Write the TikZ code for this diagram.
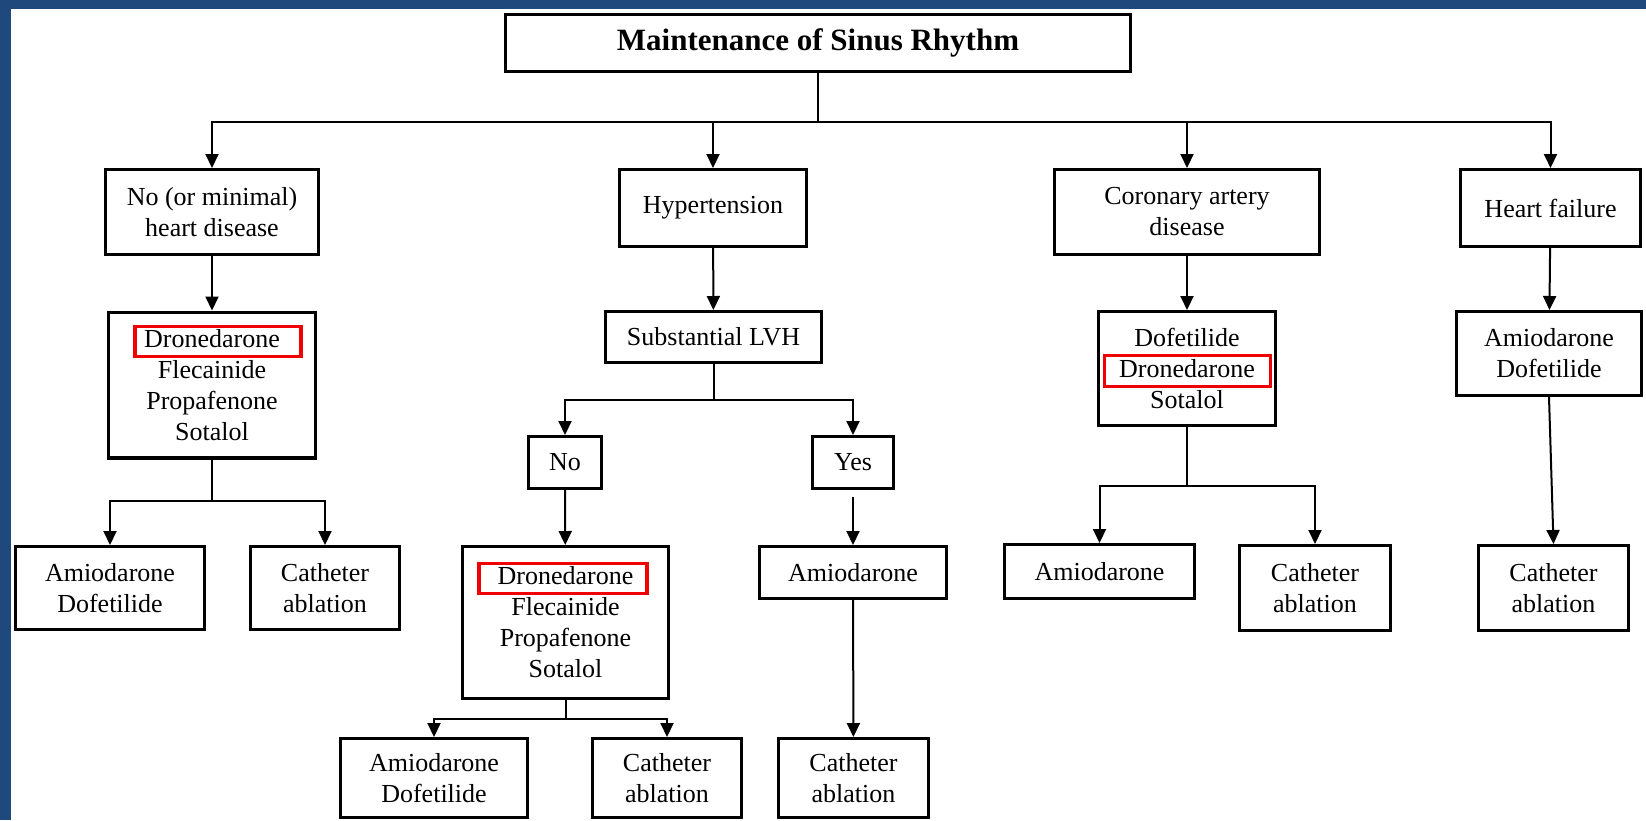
\documentclass[tikz,border=0pt]{standalone}
\usepackage{fontspec}
\usetikzlibrary{arrows.meta}
\newfontfamily\chartfont{Liberation Serif}
\definecolor{frameblue}{RGB}{31,73,125}
\definecolor{hlred}{RGB}{240,0,0}

\begin{document}
\begin{tikzpicture}[x=1pt, y=-1pt,
  box/.style={draw=black, line width=3.2pt, fill=white, inner sep=0pt, align=center,
    font={\chartfont\fontsize{26}{31}\selectfont}},
  sz/.style n args={2}{minimum width={#1pt-3.2pt}, minimum height={#2pt-3.2pt}},
  titlebox/.style={box, font={\chartfont\bfseries\fontsize{31}{37}\selectfont}},
  conn/.style={line width=2pt, draw=black},
  arr/.style={conn, -{Triangle[width=13pt,length=14pt]}},
  hl/.style={draw=hlred, line width=3.6pt, inner sep=0pt},
]
% canvas and frame
\useasboundingbox (0,0) rectangle (1646,820);
\fill[frameblue] (0,0) rectangle (1646,820);
\fill[white] (11,9) rectangle (1646,820);

% top
\node[titlebox, sz={628}{60}] (main) at (818,43) {Maintenance of Sinus Rhythm};

% first level
\node[box, sz={216}{88}] (nohd) at (212,212) {No (or minimal)\\heart disease};
\node[box, sz={190}{80}] (hyp)  at (713,208) {Hypertension};
\node[box, sz={268}{88}] (cad)  at (1187,212) {Coronary artery\\disease};
\node[box, sz={183}{80}] (hf)   at (1550.5,208) {Heart failure};

% second level
\node[box, sz={210}{149}] (drA) at (212,385) {Dronedarone\\Flecainide\\Propafenone\\Sotalol};
\node[box, sz={219}{54}]  (lvh) at (713.5,337) {Substantial LVH};
\node[box, sz={180}{117}] (drC) at (1187,368.5) {Dofetilide\\Dronedarone\\Sotalol};
\node[box, sz={188}{87}]  (drH) at (1549,353.5) {Amiodarone\\Dofetilide};

% LVH answers
\node[box, sz={76}{55}] (no)  at (565,462.5) {No};
\node[box, sz={84}{55}] (yes) at (853,462.5) {Yes};

% third level
\node[box, sz={192}{86}]  (amA) at (110,588) {Amiodarone\\Dofetilide};
\node[box, sz={152}{86}]  (caA) at (325,588) {Catheter\\ablation};
\node[box, sz={209}{155}] (drN) at (565.5,622.5) {Dronedarone\\Flecainide\\Propafenone\\Sotalol};
\node[box, sz={190}{55}]  (amY) at (853,572.5) {Amiodarone};
\node[box, sz={193}{57}]  (amC) at (1099.5,571.5) {Amiodarone};
\node[box, sz={154}{88}]  (caC) at (1315,588) {Catheter\\ablation};
\node[box, sz={153}{88}]  (caH) at (1553.5,588) {Catheter\\ablation};

% bottom level
\node[box, sz={190}{82}] (amN) at (434,778) {Amiodarone\\Dofetilide};
\node[box, sz={152}{82}] (caN) at (667,778) {Catheter\\ablation};
\node[box, sz={153}{82}] (caY) at (853.5,778) {Catheter\\ablation};

% highlight frames around Dronedarone
\node[hl, minimum width=166pt, minimum height=30pt] (hlA) at (217.75,341.5) {};
\node[hl, minimum width=168pt, minimum height=30pt] (hlN) at (563,578.5) {};
\node[hl, minimum width=166pt, minimum height=31pt] (hlC) at (1187.3,371) {};

% branching points
\coordinate (busTop) at (818,122);
\coordinate (busA)   at (212,501);
\coordinate (busL)   at (713.5,400);
\coordinate (busN)   at (565.5,719);
\coordinate (busC)   at (1187,486);

% connectors
\draw[conn] (main.south) -- (busTop);
\draw[arr] (busTop) -| (nohd.north);
\draw[arr] (busTop) -| (hyp.north);
\draw[arr] (busTop) -| (cad.north);
\draw[arr] (busTop) -| (hf.north);

\draw[arr] (nohd) -- (drA);
\draw[conn] (drA.south) -- (busA);
\draw[arr] (busA) -| (amA.north);
\draw[arr] (busA) -| (caA.north);

\draw[arr] (hyp) -- (lvh);
\draw[conn] (lvh.south) -- (busL);
\draw[arr] (busL) -| (no.north);
\draw[arr] (busL) -| (yes.north);
\draw[arr] (no) -- (drN);
\draw[arr, shorten <=7pt] (yes) -- (amY);
\draw[arr] (amY) -- (caY);
\draw[conn] (drN.south) -- (busN);
\draw[arr] (busN) -| (amN.north);
\draw[arr] (busN) -| (caN.north);

\draw[arr] (cad) -- (drC);
\draw[conn] (drC.south) -- (busC);
\draw[arr] (busC) -| (amC.north);
\draw[arr] (busC) -| (caC.north);

\draw[arr] (hf) -- (drH);
\draw[arr] (drH.south) -- (caH.north);
\end{tikzpicture}
\end{document}
